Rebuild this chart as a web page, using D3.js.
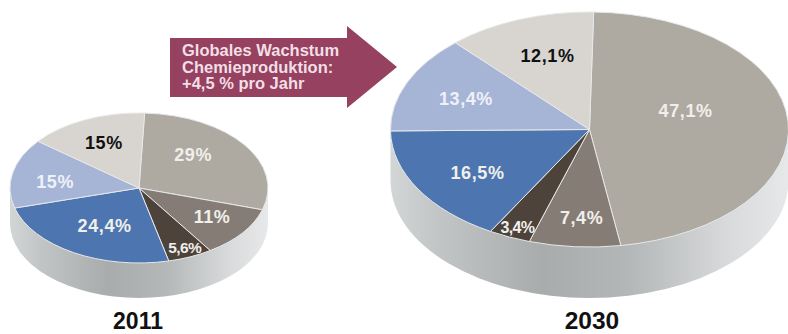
<!DOCTYPE html>
<html>
<head>
<meta charset="utf-8">
<script src="https://cdn.jsdelivr.net/npm/d3@7"></script>
<style>
  html, body { margin: 0; padding: 0; background: #fff; }
  svg { display: block; }
  text { font-family: "Liberation Sans", Arial, sans-serif; font-weight: bold; }
</style>
</head>
<body>
<svg id="chart" width="788" height="334"></svg>
<script>
// Share of world chemical production by region group
const years = ["2011", "2030"];
const labels2011 = ["29%", "11%", "5,6%", "24,4%", "15%", "15%"];
const values2011 = [29, 11, 5.6, 24.4, 15, 15];
const labels2030 = ["47,1%", "7,4%", "3,4%", "16,5%", "13,4%", "12,1%"];
const values2030 = [47.1, 7.4, 3.4, 16.5, 13.4, 12.1];
const sliceColors = ["#aea9a1", "#857d75", "#4d433b", "#4d76b0", "#a6b5d6", "#d8d4cf"];
const labelColors = ["#f1efec", "#f1efec", "#f1efec", "#f1efec", "#eef1f8", "#111111"];
const growthLines = ["Globales Wachstum", "Chemieproduktion:", "+4,5 % pro Jahr"];

// Pie layout: ellipse, thickness and hand placed label nudges
const pies = [
  { year: years[0], values: values2011, labels: labels2011, cx: 139, cy: 188, rx: 129, ry: 75, depth: 35,
    start: 2.5, fontSize: 18, nudges: [[-9,-7],[11,2],[15,18],[5,-1],[-8,3],[-3,-4]], smallest: 15.5, titleX: 138, titleSize: 23 },
  { year: years[1], values: values2030, labels: labels2030, cx: 589.5, cy: 129.5, rx: 199, ry: 117.5, depth: 51,
    start: 1.2, fontSize: 18, nudges: [[-23,-14],[1,18],[-24,33],[-9,8],[-14,-2],[0,-8]], smallest: 16, titleX: 592, titleSize: 24.5 }
];

const svg = d3.select("#chart");
const defs = svg.append("defs");
const unit = 100; // arcs are built on a unit circle, then squashed into the ellipse

pies.forEach((p, i) => {
  const gradientId = "side" + i;
  const gradient = defs.append("linearGradient").attr("id", gradientId)
    .attr("gradientUnits", "userSpaceOnUse")
    .attr("x1", -unit).attr("x2", unit).attr("y1", 0).attr("y2", 0);
  [[0, "#d3d6d6"], [0.12, "#c2c5c5"], [0.38, "#a9acac"], [0.6, "#b4b7b7"], [0.85, "#d8dadb"], [1, "#e6e8e9"]]
    .forEach(([o, c]) => gradient.append("stop").attr("offset", o).attr("stop-color", c));

  const g = svg.append("g");
  const yScale = p.ry / unit;
  const depthUnits = p.depth / yScale;

  // Cylinder wall: lower half of the rim, dropped by the thickness
  const wall = d3.path();
  wall.moveTo(-unit, 0);
  wall.lineTo(-unit, depthUnits);
  wall.arc(0, depthUnits, unit, Math.PI, 0, true);
  wall.lineTo(unit, 0);
  wall.closePath();
  g.append("path")
    .attr("d", wall.toString())
    .attr("transform", `translate(${p.cx},${p.cy}) scale(${p.rx / unit},${yScale})`)
    .attr("fill", `url(#${gradientId})`);

  const startAngle = p.start * Math.PI / 180;
  const pie = d3.pie().sort(null).startAngle(startAngle).endAngle(startAngle + 2 * Math.PI);
  const arc = d3.arc().innerRadius(0).outerRadius(unit);
  const slices = pie(p.values);

  g.selectAll("path.slice").data(slices).join("path")
    .attr("class", "slice")
    .attr("d", arc)
    .attr("transform", `translate(${p.cx},${p.cy}) scale(${p.rx / unit},${yScale})`)
    .attr("fill", (d, j) => sliceColors[j])
    .attr("stroke", "#e6e8ea")
    .attr("stroke-width", 1)
    .style("vector-effect", "non-scaling-stroke");

  g.selectAll("text.value").data(slices).join("text")
    .attr("class", "value")
    .attr("x", (d, j) => {
      const mid = (d.startAngle + d.endAngle) / 2;
      return p.cx + 0.6 * p.rx * Math.sin(mid) + p.nudges[j][0];
    })
    .attr("y", (d, j) => {
      const mid = (d.startAngle + d.endAngle) / 2;
      return p.cy - 0.6 * p.ry * Math.cos(mid) + p.nudges[j][1];
    })
    .attr("text-anchor", "middle")
    .attr("dominant-baseline", "central")
    .attr("font-size", (d, j) => p.values[j] < 6 ? p.smallest : p.fontSize)
    .attr("letter-spacing", (d, j) => p.values[j] < 6 ? -0.6 : 0.6)
    .attr("fill", (d, j) => labelColors[j])
    .text((d, j) => p.labels[j]);

  svg.append("text")
    .attr("x", p.titleX).attr("y", 329)
    .attr("text-anchor", "middle")
    .attr("font-size", p.titleSize)
    .attr("fill", "#111")
    .text(p.year);
});

// Growth arrow between the two pies
const arrowPoints = [[170, 38], [347, 38], [347, 26], [397, 67], [347, 108], [347, 97], [170, 97]];
svg.append("path")
  .attr("d", d3.line()(arrowPoints) + "Z")
  .attr("fill", "#96415f");

svg.selectAll("text.growth").data(growthLines).join("text")
  .attr("class", "growth")
  .attr("x", 182)
  .attr("y", (d, i) => 56 + i * 16.5)
  .attr("font-size", 16.5)
  .attr("fill", "#f2dfe6")
  .text(d => d);
</script>
</body>
</html>
